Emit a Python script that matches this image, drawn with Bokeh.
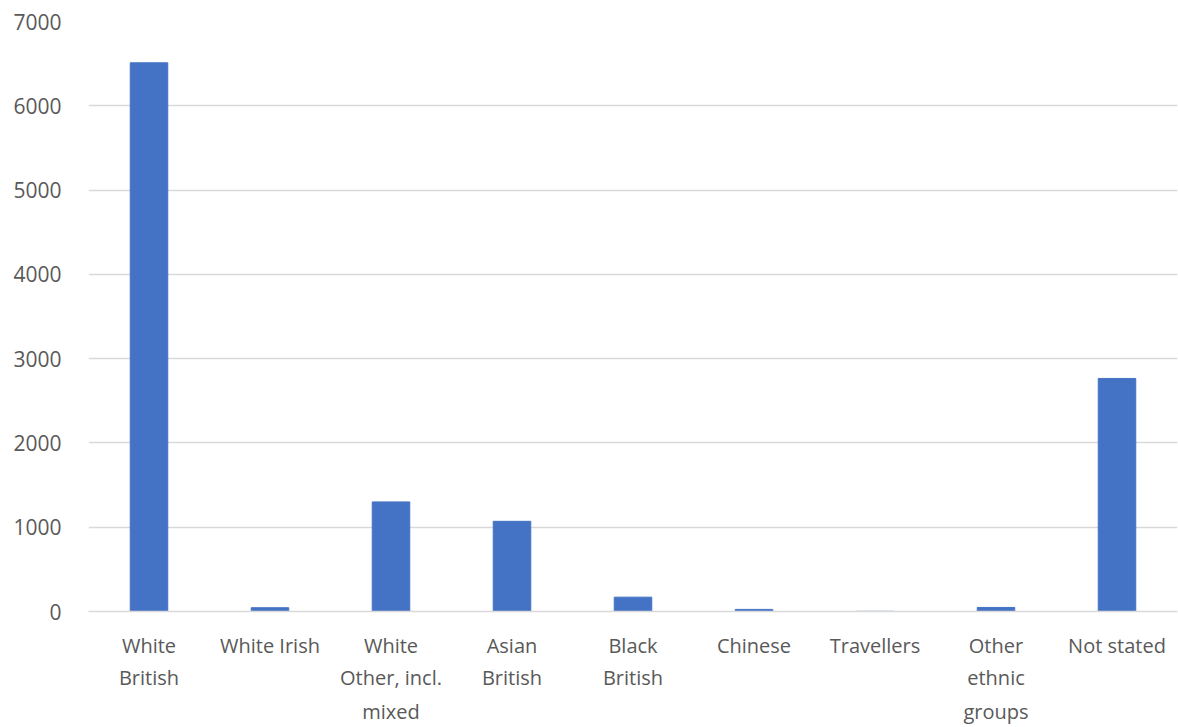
from bokeh.plotting import figure
from bokeh.models import (ColumnDataSource, Range1d, SingleIntervalTicker,
                          LinearAxis, FixedTicker)
from bokeh.embed import file_html
from bokeh.resources import INLINE

# Ethnic group counts
categories = [
    "White British", "White Irish", "White Other, incl. mixed", "Asian British",
    "Black British", "Chinese", "Travellers", "Other ethnic groups", "Not stated",
]
tick_labels = [
    "White\nBritish", "White Irish", "White\nOther, incl.\nmixed", "Asian\nBritish",
    "Black\nBritish", "Chinese", "Travellers", "Other\nethnic\ngroups", "Not stated",
]
counts = [6510, 45, 1300, 1070, 170, 25, 2, 48, 2765]

# each category is placed at its position in the list
pos = list(range(len(categories)))
source = ColumnDataSource(data=dict(pos=pos, category=categories, count=counts))

TEXT = "#595959"
GRID = "#D9D9D9"
FONT = "Open Sans"

p = figure(
    x_range=Range1d(-0.5, len(categories) - 0.5),
    y_range=Range1d(0, 7000),
    width=1178, height=727,
    output_backend="svg", toolbar_location=None,
    min_border_left=88, min_border_right=1, min_border_top=21, min_border_bottom=0,
)
p.outline_line_color = None
p.background_fill_color = "white"
p.border_fill_color = "white"

p.vbar(x="pos", top="count", width=0.31, source=source,
       fill_color="#4472C4", line_color="#4472C4")

p.yaxis.ticker = SingleIntervalTicker(interval=1000)
p.yaxis.axis_line_color = None
p.yaxis.major_tick_line_color = None
p.yaxis.minor_tick_line_color = None
p.yaxis.major_label_standoff = 21
p.yaxis.major_label_text_font = FONT
p.yaxis.major_label_text_font_size = "21px"
p.yaxis.major_label_text_color = TEXT

p.xgrid.grid_line_color = None
p.ygrid.grid_line_color = GRID
p.ygrid.grid_line_width = 1.5

# Wrapped category names: one stacked axis per text line
lines = [t.split("\n") for t in tick_labels]


def style_axis(ax, standoff):
    ax.major_tick_line_color = None
    ax.minor_tick_line_color = None
    ax.major_tick_out = 0
    ax.major_tick_in = 0
    ax.major_label_standoff = standoff
    ax.major_label_text_font = FONT
    ax.major_label_text_font_size = "20px"
    ax.major_label_text_color = TEXT


def line_ticks(k):
    return [i for i, l in zip(pos, lines) if len(l) > k]


xa = p.xaxis[0]
xa.ticker = FixedTicker(ticks=line_ticks(0))
xa.major_label_overrides = {i: l[0] for i, l in zip(pos, lines)}
xa.axis_line_color = GRID
xa.axis_line_width = 1.5
style_axis(xa, 20)

for k, standoff in ((1, 2), (2, 4)):
    ax = LinearAxis(ticker=FixedTicker(ticks=line_ticks(k)),
                    major_label_overrides={i: l[k] for i, l in zip(pos, lines) if len(l) > k})
    ax.axis_line_color = None
    style_axis(ax, standoff)
    p.add_layout(ax, "below")

open("out.html", "w").write(file_html(p, INLINE))
